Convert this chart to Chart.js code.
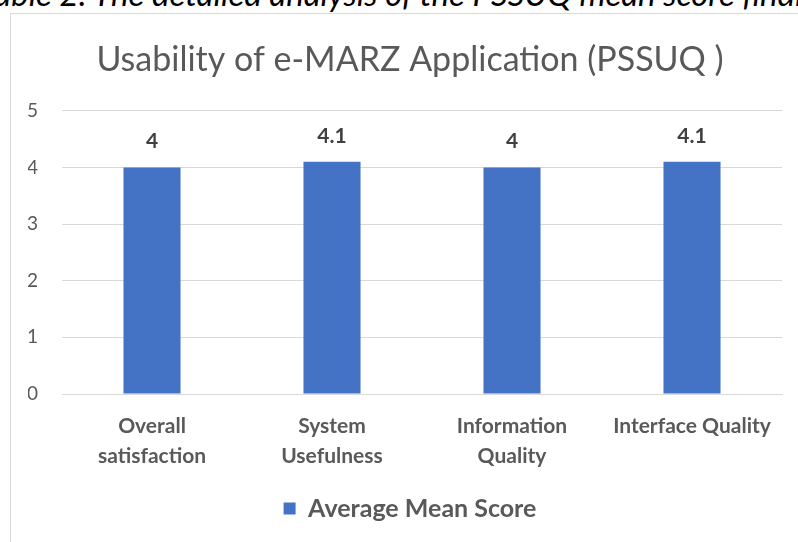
<!DOCTYPE html>
<html><head><meta charset="utf-8">
<script src="https://cdn.jsdelivr.net/npm/chart.js@4.4.0/dist/chart.umd.min.js"></script>
<style>
html,body{margin:0;padding:0;background:#fff;overflow:hidden;}
#wrap{position:relative;width:798px;height:542px;overflow:hidden;}
#caption{position:absolute;left:-20px;top:-26px;font:italic 33px Lato, sans-serif;line-height:1.2;color:#000;white-space:nowrap;}
#frame{position:absolute;left:10px;top:13px;width:900px;height:600px;border-left:1px solid #d9d9d9;border-top:1px solid #d9d9d9;}
canvas{position:absolute;left:10px;top:0;}
</style></head><body>
<div id="wrap">
<div id="caption">Table 2. The detailed analysis of the PSSUQ mean score findings</div>
<div id="frame"></div>
<canvas id="c" width="800" height="542"></canvas>
</div>
<script>
const categories = [["Overall","satisfaction"],["System","Usefulness"],["Information","Quality"],"Interface Quality"];
const meanScores = [4, 4.1, 4, 4.1];
const yTickMin = 0, yTickMax = 5, yTickStep = 1;
const seriesName = "Average Mean Score";
const chartTitle = "Usability of e-MARZ Application (PSSUQ )";

const FONT = "Lato, 'Open Sans', sans-serif";

const valueLabels = {
  id: 'valueLabels',
  afterDatasetsDraw(chart) {
    const ctx = chart.ctx;
    const meta = chart.getDatasetMeta(0);
    ctx.save();
    ctx.font = "bold 21px " + FONT;
    ctx.fillStyle = "#404040";
    ctx.textAlign = "center";
    ctx.textBaseline = "middle";
    meta.data.forEach((bar, i) => {
      ctx.fillText(String(chart.data.datasets[0].data[i]), bar.x, bar.y - 26);
    });
    ctx.restore();
  }
};

new Chart(document.getElementById('c'), {
  type: 'bar',
  data: {
    labels: categories,
    datasets: [{
      label: seriesName,
      data: meanScores,
      backgroundColor: '#4472C4',
      borderWidth: 0,
      categoryPercentage: 1,
      barPercentage: 0.317
    }]
  },
  options: {
    responsive: false,
    animation: false,
    devicePixelRatio: 1,
    layout: { padding: { left: 18, right: 18, top: 0, bottom: 11 } },
    plugins: {
      title: {
        display: true,
        text: chartTitle,
        color: '#595959',
        font: { family: FONT, size: 34, weight: 'normal', lineHeight: 1.2 },
        padding: { top: 40, bottom: 30 }
      },
      legend: {
        display: true,
        position: 'bottom',
        labels: {
          color: '#595959',
          font: { family: FONT, size: 25, weight: 'bold' },
          boxWidth: 12,
          boxHeight: 12,
          padding: 10
        }
      },
      tooltip: { enabled: false }
    },
    scales: {
      x: {
        grid: { display: false, drawTicks: false },
        border: { display: true, color: '#d9d9d9', width: 1 },
        ticks: {
          color: '#595959',
          font: { family: FONT, size: 21, weight: 'bold', lineHeight: '30px' },
          padding: 17,
          maxRotation: 0, autoSkip: false
        },
        afterFit(scale) { scale.height = 92; }
      },
      y: {
        min: yTickMin, max: yTickMax,
        grid: { color: '#d9d9d9', lineWidth: 1, drawTicks: false },
        border: { display: false },
        ticks: {
          stepSize: yTickStep,
          color: '#595959',
          font: { family: FONT, size: 19 },
          padding: 24
        },
        afterFit(scale) { scale.width = 34; }
      },
      yRight: {
        position: 'right',
        min: yTickMin, max: yTickMax,
        grid: { display: false, drawTicks: false },
        border: { display: false },
        ticks: { display: false },
        afterFit(scale) { scale.width = 10; }
      }
    }
  },
  plugins: [valueLabels]
});
</script>
</body></html>
